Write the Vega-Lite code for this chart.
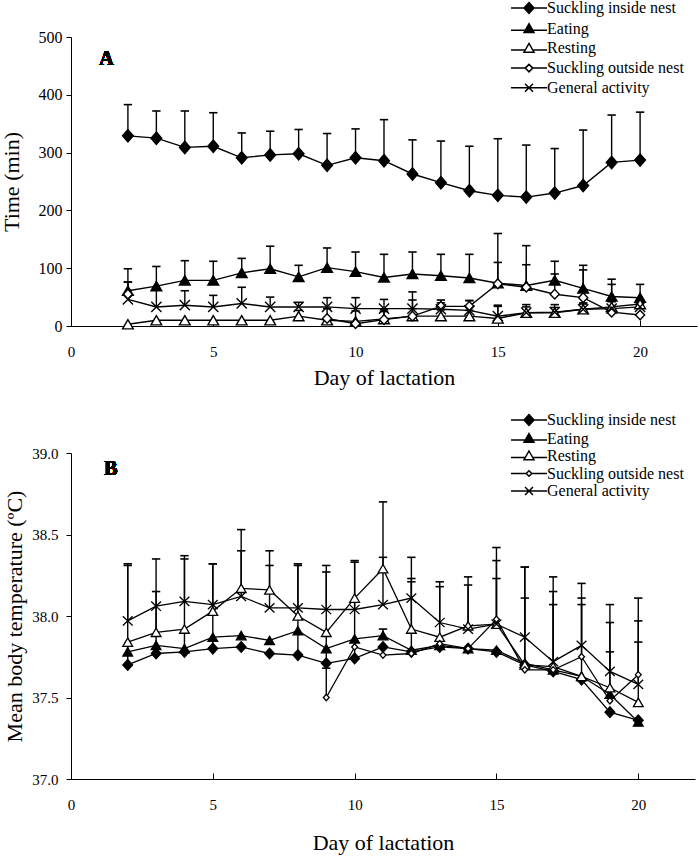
{
  "$schema": "https://vega.github.io/schema/vega-lite/v6.json",
  "padding": {"left": 0, "top": 0, "right": 2, "bottom": 2},
  "spacing": 24,
  "resolve": {"scale": {"shape": "independent", "fill": "independent"}, "legend": {"shape": "independent", "fill": "independent"}},
  "config": {
    "font": "Liberation Serif",
    "view": {"stroke": null},
    "axis": {"grid": false, "domainColor": "black", "tickColor": "black", "labelColor": "black", "titleColor": "black", "labelFont": "Liberation Serif", "titleFont": "Liberation Serif", "labelFontSize": 15, "titleFontSize": 22, "titleFontWeight": "normal", "domainWidth": 1, "tickWidth": 1},
    "axisX": {"tickSize": -6, "labelPadding": 24, "titlePadding": 8, "labelFlush": false},
    "axisY": {"tickSize": 5, "labelPadding": 4, "titlePadding": 10},
    "legend": {"labelFont": "Liberation Serif", "labelFontSize": 16, "labelColor": "black", "symbolSize": 100, "symbolOffset": 18, "labelOffset": 10, "padding": 0}
  },
  "datasets": {
    "a": [
      {"d": 2, "s": "Suckling inside nest", "v": 329, "u": 383},
      {"d": 3, "s": "Suckling inside nest", "v": 325, "u": 372},
      {"d": 4, "s": "Suckling inside nest", "v": 309, "u": 372},
      {"d": 5, "s": "Suckling inside nest", "v": 311, "u": 369},
      {"d": 6, "s": "Suckling inside nest", "v": 291, "u": 334},
      {"d": 7, "s": "Suckling inside nest", "v": 296, "u": 337},
      {"d": 8, "s": "Suckling inside nest", "v": 298, "u": 340},
      {"d": 9, "s": "Suckling inside nest", "v": 278, "u": 333},
      {"d": 10, "s": "Suckling inside nest", "v": 291, "u": 341},
      {"d": 11, "s": "Suckling inside nest", "v": 286, "u": 357},
      {"d": 12, "s": "Suckling inside nest", "v": 263, "u": 322},
      {"d": 13, "s": "Suckling inside nest", "v": 248, "u": 320},
      {"d": 14, "s": "Suckling inside nest", "v": 234, "u": 311},
      {"d": 15, "s": "Suckling inside nest", "v": 226, "u": 324},
      {"d": 16, "s": "Suckling inside nest", "v": 223, "u": 313},
      {"d": 17, "s": "Suckling inside nest", "v": 230, "u": 307},
      {"d": 18, "s": "Suckling inside nest", "v": 243, "u": 339},
      {"d": 19, "s": "Suckling inside nest", "v": 283, "u": 365},
      {"d": 20, "s": "Suckling inside nest", "v": 287, "u": 370},
      {"d": 2, "s": "Eating", "v": 61, "u": 99},
      {"d": 3, "s": "Eating", "v": 69, "u": 103},
      {"d": 4, "s": "Eating", "v": 79, "u": 113},
      {"d": 5, "s": "Eating", "v": 79, "u": 112},
      {"d": 6, "s": "Eating", "v": 92, "u": 117},
      {"d": 7, "s": "Eating", "v": 99, "u": 138},
      {"d": 8, "s": "Eating", "v": 85, "u": 105},
      {"d": 9, "s": "Eating", "v": 101, "u": 135},
      {"d": 10, "s": "Eating", "v": 94, "u": 128},
      {"d": 11, "s": "Eating", "v": 84, "u": 124},
      {"d": 12, "s": "Eating", "v": 90, "u": 128},
      {"d": 13, "s": "Eating", "v": 87, "u": 124},
      {"d": 14, "s": "Eating", "v": 83, "u": 124},
      {"d": 15, "s": "Eating", "v": 74, "u": 110},
      {"d": 16, "s": "Eating", "v": 70, "u": 106},
      {"d": 17, "s": "Eating", "v": 79, "u": 112},
      {"d": 18, "s": "Eating", "v": 65, "u": 105},
      {"d": 19, "s": "Eating", "v": 51, "u": 81},
      {"d": 20, "s": "Eating", "v": 49, "u": 72},
      {"d": 2, "s": "Resting", "v": 3, "u": null},
      {"d": 3, "s": "Resting", "v": 10, "u": null},
      {"d": 4, "s": "Resting", "v": 10, "u": null},
      {"d": 5, "s": "Resting", "v": 10, "u": null},
      {"d": 6, "s": "Resting", "v": 10, "u": null},
      {"d": 7, "s": "Resting", "v": 10, "u": null},
      {"d": 8, "s": "Resting", "v": 17, "u": 27},
      {"d": 9, "s": "Resting", "v": 10, "u": null},
      {"d": 10, "s": "Resting", "v": 8, "u": null},
      {"d": 11, "s": "Resting", "v": 12, "u": 25},
      {"d": 12, "s": "Resting", "v": 17, "u": 30},
      {"d": 13, "s": "Resting", "v": 17, "u": 28},
      {"d": 14, "s": "Resting", "v": 17, "u": 27},
      {"d": 15, "s": "Resting", "v": 13, "u": 36},
      {"d": 16, "s": "Resting", "v": 23, "u": 33},
      {"d": 17, "s": "Resting", "v": 23, "u": 32},
      {"d": 18, "s": "Resting", "v": 29, "u": 38},
      {"d": 19, "s": "Resting", "v": 33, "u": null},
      {"d": 20, "s": "Resting", "v": 38, "u": null},
      {"d": 2, "s": "Suckling outside nest", "v": 55, "u": 76},
      {"d": 3, "s": "Suckling outside nest", "v": null, "u": null},
      {"d": 8, "s": "Suckling outside nest", "v": null, "u": null},
      {"d": 9, "s": "Suckling outside nest", "v": 13, "u": 30},
      {"d": 10, "s": "Suckling outside nest", "v": 4, "u": 26},
      {"d": 11, "s": "Suckling outside nest", "v": 11, "u": 28},
      {"d": 12, "s": "Suckling outside nest", "v": 17, "u": 59},
      {"d": 13, "s": "Suckling outside nest", "v": 34, "u": 45},
      {"d": 14, "s": "Suckling outside nest", "v": 34, "u": 44},
      {"d": 15, "s": "Suckling outside nest", "v": 73, "u": 160},
      {"d": 16, "s": "Suckling outside nest", "v": 67, "u": 139},
      {"d": 17, "s": "Suckling outside nest", "v": 55, "u": 90},
      {"d": 18, "s": "Suckling outside nest", "v": 49, "u": 97},
      {"d": 19, "s": "Suckling outside nest", "v": 24, "u": 72},
      {"d": 20, "s": "Suckling outside nest", "v": 19, "u": null},
      {"d": 2, "s": "General activity", "v": 46, "u": 76},
      {"d": 3, "s": "General activity", "v": 33, "u": 63},
      {"d": 4, "s": "General activity", "v": 36, "u": 61},
      {"d": 5, "s": "General activity", "v": 33, "u": 53},
      {"d": 6, "s": "General activity", "v": 39, "u": 67},
      {"d": 7, "s": "General activity", "v": 33, "u": 50},
      {"d": 8, "s": "General activity", "v": 33, "u": 41},
      {"d": 9, "s": "General activity", "v": 33, "u": 49},
      {"d": 10, "s": "General activity", "v": 30, "u": 49},
      {"d": 11, "s": "General activity", "v": 30, "u": 46},
      {"d": 12, "s": "General activity", "v": 30, "u": 45},
      {"d": 13, "s": "General activity", "v": 29, "u": 40},
      {"d": 14, "s": "General activity", "v": 27, "u": 44},
      {"d": 15, "s": "General activity", "v": 17, "u": 34},
      {"d": 16, "s": "General activity", "v": 23, "u": 37},
      {"d": 17, "s": "General activity", "v": 24, "u": 37},
      {"d": 18, "s": "General activity", "v": 29, "u": 40},
      {"d": 19, "s": "General activity", "v": 30, "u": 42},
      {"d": 20, "s": "General activity", "v": 33, "u": 40}
    ],
    "b": [
      {"d": 2, "s": "Suckling inside nest", "v": 37.70, "u": 38.31},
      {"d": 3, "s": "Suckling inside nest", "v": 37.77, "u": 38.35},
      {"d": 4, "s": "Suckling inside nest", "v": 37.78, "u": 38.37},
      {"d": 5, "s": "Suckling inside nest", "v": 37.80, "u": 38.32},
      {"d": 6, "s": "Suckling inside nest", "v": 37.81, "u": null},
      {"d": 7, "s": "Suckling inside nest", "v": 37.77, "u": null},
      {"d": 8, "s": "Suckling inside nest", "v": 37.76, "u": 38.32},
      {"d": 9, "s": "Suckling inside nest", "v": 37.71, "u": 38.27},
      {"d": 10, "s": "Suckling inside nest", "v": 37.74, "u": 38.34},
      {"d": 11, "s": "Suckling inside nest", "v": 37.81, "u": null},
      {"d": 12, "s": "Suckling inside nest", "v": 37.78, "u": 38.21},
      {"d": 13, "s": "Suckling inside nest", "v": 37.81, "u": null},
      {"d": 14, "s": "Suckling inside nest", "v": 37.80, "u": null},
      {"d": 15, "s": "Suckling inside nest", "v": 37.78, "u": null},
      {"d": 16, "s": "Suckling inside nest", "v": 37.70, "u": 38.30},
      {"d": 17, "s": "Suckling inside nest", "v": 37.66, "u": 38.07},
      {"d": 18, "s": "Suckling inside nest", "v": 37.61, "u": null},
      {"d": 19, "s": "Suckling inside nest", "v": 37.41, "u": null},
      {"d": 20, "s": "Suckling inside nest", "v": 37.36, "u": null},
      {"d": 2, "s": "Eating", "v": 37.78, "u": null},
      {"d": 3, "s": "Eating", "v": 37.82, "u": null},
      {"d": 4, "s": "Eating", "v": 37.80, "u": null},
      {"d": 5, "s": "Eating", "v": 37.87, "u": null},
      {"d": 6, "s": "Eating", "v": 37.88, "u": null},
      {"d": 7, "s": "Eating", "v": 37.85, "u": null},
      {"d": 8, "s": "Eating", "v": 37.91, "u": null},
      {"d": 9, "s": "Eating", "v": 37.80, "u": null},
      {"d": 10, "s": "Eating", "v": 37.86, "u": null},
      {"d": 11, "s": "Eating", "v": 37.88, "u": 37.92},
      {"d": 12, "s": "Eating", "v": 37.79, "u": null},
      {"d": 13, "s": "Eating", "v": 37.82, "u": null},
      {"d": 14, "s": "Eating", "v": 37.80, "u": null},
      {"d": 15, "s": "Eating", "v": 37.79, "u": null},
      {"d": 16, "s": "Eating", "v": 37.71, "u": 38.11},
      {"d": 17, "s": "Eating", "v": 37.67, "u": null},
      {"d": 18, "s": "Eating", "v": 37.63, "u": null},
      {"d": 19, "s": "Eating", "v": 37.52, "u": 37.78},
      {"d": 20, "s": "Eating", "v": 37.35, "u": null},
      {"d": 2, "s": "Resting", "v": 37.84, "u": null},
      {"d": 3, "s": "Resting", "v": 37.90, "u": 38.15},
      {"d": 4, "s": "Resting", "v": 37.92, "u": null},
      {"d": 5, "s": "Resting", "v": 38.03, "u": null},
      {"d": 6, "s": "Resting", "v": 38.17, "u": 38.53},
      {"d": 7, "s": "Resting", "v": 38.16, "u": 38.40},
      {"d": 8, "s": "Resting", "v": 38.00, "u": null},
      {"d": 9, "s": "Resting", "v": 37.90, "u": null},
      {"d": 10, "s": "Resting", "v": 38.11, "u": null},
      {"d": 11, "s": "Resting", "v": 38.29, "u": 38.70},
      {"d": 12, "s": "Resting", "v": 37.92, "u": 38.23},
      {"d": 13, "s": "Resting", "v": 37.87, "u": 38.18},
      {"d": 14, "s": "Resting", "v": 37.94, "u": 38.19},
      {"d": 15, "s": "Resting", "v": 37.95, "u": 38.23},
      {"d": 16, "s": "Resting", "v": 37.70, "u": null},
      {"d": 17, "s": "Resting", "v": 37.69, "u": 38.15},
      {"d": 18, "s": "Resting", "v": 37.63, "u": 38.07},
      {"d": 19, "s": "Resting", "v": 37.56, "u": 37.96},
      {"d": 20, "s": "Resting", "v": 37.47, "u": 37.84},
      {"d": 9, "s": "Suckling outside nest", "v": 37.50, "u": 37.68},
      {"d": 10, "s": "Suckling outside nest", "v": 37.81, "u": null},
      {"d": 11, "s": "Suckling outside nest", "v": 37.76, "u": null},
      {"d": 12, "s": "Suckling outside nest", "v": 37.77, "u": null},
      {"d": 13, "s": "Suckling outside nest", "v": 37.83, "u": null},
      {"d": 14, "s": "Suckling outside nest", "v": 37.80, "u": null},
      {"d": 15, "s": "Suckling outside nest", "v": 37.98, "u": 38.42},
      {"d": 16, "s": "Suckling outside nest", "v": 37.67, "u": null},
      {"d": 17, "s": "Suckling outside nest", "v": 37.67, "u": null},
      {"d": 18, "s": "Suckling outside nest", "v": 37.75, "u": 38.11},
      {"d": 19, "s": "Suckling outside nest", "v": 37.48, "u": null},
      {"d": 20, "s": "Suckling outside nest", "v": 37.64, "u": 37.97},
      {"d": 2, "s": "General activity", "v": 37.97, "u": 38.32},
      {"d": 3, "s": "General activity", "v": 38.06, "u": null},
      {"d": 4, "s": "General activity", "v": 38.09, "u": 38.35},
      {"d": 5, "s": "General activity", "v": 38.07, "u": 38.32},
      {"d": 6, "s": "General activity", "v": 38.12, "u": 38.40},
      {"d": 7, "s": "General activity", "v": 38.05, "u": 38.31},
      {"d": 8, "s": "General activity", "v": 38.05, "u": 38.31},
      {"d": 9, "s": "General activity", "v": 38.04, "u": 38.31},
      {"d": 10, "s": "General activity", "v": 38.04, "u": 38.33},
      {"d": 11, "s": "General activity", "v": 38.07, "u": 38.36},
      {"d": 12, "s": "General activity", "v": 38.11, "u": 38.36},
      {"d": 13, "s": "General activity", "v": 37.96, "u": 38.21},
      {"d": 14, "s": "General activity", "v": 37.92, "u": 38.24},
      {"d": 15, "s": "General activity", "v": 37.95, "u": 38.34},
      {"d": 16, "s": "General activity", "v": 37.87, "u": 38.30},
      {"d": 17, "s": "General activity", "v": 37.72, "u": 38.24},
      {"d": 18, "s": "General activity", "v": 37.82, "u": 38.20},
      {"d": 19, "s": "General activity", "v": 37.66, "u": 38.07},
      {"d": 20, "s": "General activity", "v": 37.58, "u": 38.11}
    ]
  },
  "vconcat": [
    {
      "width": 626,
      "height": 289,
      "data": {"name": "a"},
      "resolve": {"scale": {"shape": "independent", "fill": "independent"}, "legend": {"shape": "independent", "fill": "independent"}},
      "encoding": {
        "x": {"field": "d", "type": "quantitative", "scale": {"domain": [0, 22], "nice": false}, "axis": {"values": [0, 5, 10, 15, 20], "title": "Day of lactation"}},
        "y": {"field": "v", "type": "quantitative", "scale": {"domain": [0, 500], "nice": false}, "axis": {"values": [0, 100, 200, 300, 400, 500], "title": "Time (min)", "labelFontSize": 16, "titlePadding": 15}}
      },
      "layer": [
        {
          "transform": [{"filter": "isValid(datum.u) && isValid(datum.v)"}],
          "mark": {"type": "rule", "color": "black", "strokeWidth": 1.4},
          "encoding": {"y2": {"field": "u"}}
        },
        {
          "transform": [{"filter": "isValid(datum.u) && isValid(datum.v)"}],
          "mark": {"type": "point", "shape": "stroke", "size": 70, "color": "black", "strokeWidth": 1.6, "filled": false, "opacity": 1},
          "encoding": {"y": {"field": "u", "type": "quantitative", "axis": {"title": "Time (min)"}}}
        },
        {
          "mark": {"type": "line", "color": "black", "strokeWidth": 1.4, "invalid": "break-paths-show-domains"},
          "encoding": {"detail": {"field": "s"}}
        },
        {
          "transform": [{"filter": "isValid(datum.v)"}],
          "mark": {"type": "point", "filled": true, "stroke": "black", "strokeWidth": 1.4, "size": 115, "opacity": 1},
          "encoding": {
            "shape": {
              "field": "s", "type": "nominal",
              "scale": {"domain": ["Suckling inside nest", "Eating", "Resting", "Suckling outside nest", "General activity"],
                        "range": ["M0,-1.15L1,0L0,1.15L-1,0Z", "triangle-up", "triangle-up", "M0,-0.9L0.85,0L0,0.9L-0.85,0Z", "M-0.95,-0.95L0.95,0.95M-0.95,0.95L0.95,-0.95"]},
              "legend": null
            },
            "fill": {
              "field": "s", "type": "nominal",
              "scale": {"domain": ["Suckling inside nest", "Eating", "Resting", "Suckling outside nest", "General activity"], "range": ["black", "black", "white", "white", "transparent"]},
              "legend": null
            }
          }
        },
        {
          "transform": [{"filter": "false"}],
          "mark": {"type": "point", "filled": true, "stroke": "black", "strokeWidth": 1.4, "size": 100, "opacity": 1},
          "encoding": {
            "shape": {
              "field": "s", "type": "nominal",
              "scale": {"domain": ["Suckling inside nest", "Eating", "Resting", "Suckling outside nest", "General activity"],
                        "range": ["M-3.6,0H-1M1,0H3.6M0,-1.1L1,0L0,1.1L-1,0Z", "M-3.6,0.3H3.6M0,-1L1,0.75L-1,0.75Z", "M-3.6,0.3H-0.74M0.74,0.3H3.6M0,-1L1,0.75L-1,0.75Z", "M-3.6,0H-0.75M0.75,0H3.6M0,-0.75L0.75,0L0,0.75L-0.75,0Z", "M-3.6,0H3.6M-0.8,-0.8L0.8,0.8M-0.8,0.8L0.8,-0.8"]},
              "legend": {"title": null, "orient": "none", "legendX": 432, "legendY": -37, "rowPadding": 3.7}
            },
            "fill": {
              "field": "s", "type": "nominal",
              "scale": {"domain": ["Suckling inside nest", "Eating", "Resting", "Suckling outside nest", "General activity"], "range": ["black", "black", "white", "white", "white"]},
              "legend": {"title": null, "orient": "none", "legendX": 432, "legendY": -37, "rowPadding": 3.7}
            }
          }
        },
        {
          "mark": {"type": "text", "text": "A", "fontWeight": "bold", "fontSize": 20, "font": "Liberation Serif", "align": "center", "baseline": "middle"},
          "encoding": {"x": {"datum": 1.25}, "y": {"datum": 462}}
        }
      ]
    },
    {
      "width": 624,
      "height": 326,
      "data": {"name": "b"},
      "resolve": {"scale": {"shape": "independent", "fill": "independent"}, "legend": {"shape": "independent", "fill": "independent"}},
      "encoding": {
        "x": {"field": "d", "type": "quantitative", "scale": {"domain": [0, 22], "nice": false}, "axis": {"values": [0, 5, 10, 15, 20], "title": "Day of lactation", "titlePadding": 20}},
        "y": {"field": "v", "type": "quantitative", "scale": {"domain": [37, 39], "nice": false, "zero": false}, "axis": {"values": [37, 37.5, 38, 38.5, 39], "format": ".1f", "title": "Mean body temperature (ºC)", "labelPadding": 8, "titlePadding": 5}}
      },
      "layer": [
        {
          "transform": [{"filter": "isValid(datum.u)"}],
          "mark": {"type": "rule", "color": "black", "strokeWidth": 1.4},
          "encoding": {"y2": {"field": "u"}}
        },
        {
          "transform": [{"filter": "isValid(datum.u)"}],
          "mark": {"type": "point", "shape": "stroke", "size": 70, "color": "black", "strokeWidth": 1.6, "filled": false, "opacity": 1},
          "encoding": {"y": {"field": "u", "type": "quantitative", "axis": {"title": "Mean body temperature (ºC)"}}}
        },
        {
          "mark": {"type": "line", "color": "black", "strokeWidth": 1.3},
          "encoding": {"detail": {"field": "s"}}
        },
        {
          "mark": {"type": "point", "filled": true, "stroke": "black", "strokeWidth": 1.3, "size": 95, "opacity": 1},
          "encoding": {
            "shape": {
              "field": "s", "type": "nominal",
              "scale": {"domain": ["Suckling inside nest", "Eating", "Resting", "Suckling outside nest", "General activity"],
                        "range": ["M0,-1.1L1,0L0,1.1L-1,0Z", "triangle-up", "triangle-up", "M0,-0.65L0.6,0L0,0.65L-0.6,0Z", "M-1,-0.95L1,0.95M-1,0.95L1,-0.95"]},
              "legend": null
            },
            "fill": {
              "field": "s", "type": "nominal",
              "scale": {"domain": ["Suckling inside nest", "Eating", "Resting", "Suckling outside nest", "General activity"], "range": ["black", "black", "white", "white", "transparent"]},
              "legend": null
            }
          }
        },
        {
          "transform": [{"filter": "false"}],
          "mark": {"type": "point", "filled": true, "stroke": "black", "strokeWidth": 1.4, "size": 100, "opacity": 1},
          "encoding": {
            "shape": {
              "field": "s", "type": "nominal",
              "scale": {"domain": ["Suckling inside nest", "Eating", "Resting", "Suckling outside nest", "General activity"],
                        "range": ["M-3.6,0H-1M1,0H3.6M0,-1.1L1,0L0,1.1L-1,0Z", "M-3.6,0.3H3.6M0,-1L1,0.75L-1,0.75Z", "M-3.6,0.3H-0.74M0.74,0.3H3.6M0,-1L1,0.75L-1,0.75Z", "M-3.6,0H-0.55M0.55,0H3.6M0,-0.55L0.55,0L0,0.55L-0.55,0Z", "M-3.6,0H3.6M-0.8,-0.8L0.8,0.8M-0.8,0.8L0.8,-0.8"]},
              "legend": {"title": null, "orient": "none", "legendX": 432, "legendY": -41, "rowPadding": 1.5}
            },
            "fill": {
              "field": "s", "type": "nominal",
              "scale": {"domain": ["Suckling inside nest", "Eating", "Resting", "Suckling outside nest", "General activity"], "range": ["black", "black", "white", "white", "white"]},
              "legend": {"title": null, "orient": "none", "legendX": 432, "legendY": -41, "rowPadding": 1.5}
            }
          }
        },
        {
          "mark": {"type": "text", "text": "B", "fontWeight": "bold", "fontSize": 20, "font": "Liberation Serif", "align": "center", "baseline": "middle"},
          "encoding": {"x": {"datum": 1.4}, "y": {"datum": 38.9}}
        }
      ]
    }
  ]
}
